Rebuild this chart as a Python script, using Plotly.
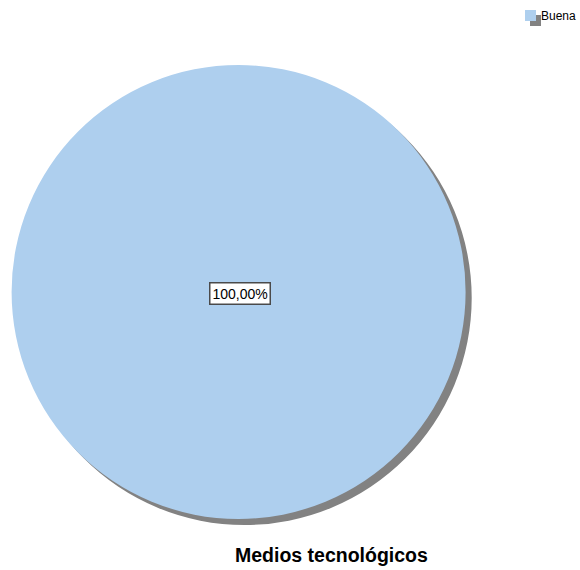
import plotly.graph_objects as go

# Category and share data
labels = ["Buena"]
values = [100.0]
title_text = "Medios tecnológicos"

W, H = 580, 570
fill_color = "#AECFEE"
shadow_color = "#828282"


def px_x(x):
    return x / W


def px_y(y):
    return 1 - y / H


# Pie placement (pixels)
cx, cy, r = 238.6, 292.0, 227.0
sh_dx, sh_dy = 6.0, 6.0

pie_dom = dict(x=[px_x(cx - r), px_x(cx + r)], y=[px_y(cy + r), px_y(cy - r)])
sh_dom = dict(x=[px_x(cx - r + sh_dx), px_x(cx + r + sh_dx)],
              y=[px_y(cy + r + sh_dy), px_y(cy - r + sh_dy)])

fig = go.Figure()

# Drop shadow behind the pie
fig.add_trace(go.Pie(
    labels=labels, values=values, domain=sh_dom, sort=False,
    marker=dict(colors=[shadow_color], line=dict(width=0)),
    textinfo="none", hoverinfo="skip", showlegend=False,
))

# Main pie
fig.add_trace(go.Pie(
    labels=labels, values=values, domain=pie_dom, sort=False,
    marker=dict(colors=[fill_color], line=dict(width=0)),
    textinfo="none", showlegend=False,
))

total = sum(values)
pct_text = "{:.2f}%".format(values[0] / total * 100).replace(".", ",")

annotations = [
    # Percentage label box
    dict(x=px_x(239.5), y=px_y(293.5), xref="paper", yref="paper",
         text=pct_text, showarrow=False,
         font=dict(family="Liberation Sans, Arial, sans-serif", size=14, color="#000000"),
         bgcolor="#FFFFFF", bordercolor="#4A4A4A", borderwidth=1.5, borderpad=2,
         xanchor="center", yanchor="middle"),
    # Chart title
    dict(x=px_x(331), y=px_y(555), xref="paper", yref="paper",
         text="<b>" + title_text + "</b>", showarrow=False,
         font=dict(family="Liberation Sans, Arial, sans-serif", size=19.5, color="#000000"),
         xanchor="center", yanchor="middle"),
    # Legend label
    dict(x=px_x(539), y=px_y(16), xref="paper", yref="paper",
         text=labels[0], showarrow=False,
         font=dict(family="Liberation Sans, Arial, sans-serif", size=12, color="#000000"),
         xanchor="left", yanchor="middle"),
]

shapes = [
    # Legend swatch shadow
    dict(type="rect", xref="paper", yref="paper",
         x0=px_x(530), x1=px_x(541), y0=px_y(26), y1=px_y(15),
         fillcolor=shadow_color, line=dict(width=0), layer="above"),
    # Legend swatch
    dict(type="rect", xref="paper", yref="paper",
         x0=px_x(525), x1=px_x(536), y0=px_y(21), y1=px_y(10),
         fillcolor=fill_color, line=dict(width=0), layer="above"),
]

fig.update_layout(
    width=W, height=H,
    margin=dict(l=0, r=0, t=0, b=0),
    paper_bgcolor="#FFFFFF", plot_bgcolor="#FFFFFF",
    showlegend=False,
    annotations=annotations,
    shapes=shapes,
)

fig.write_html("out.html")
